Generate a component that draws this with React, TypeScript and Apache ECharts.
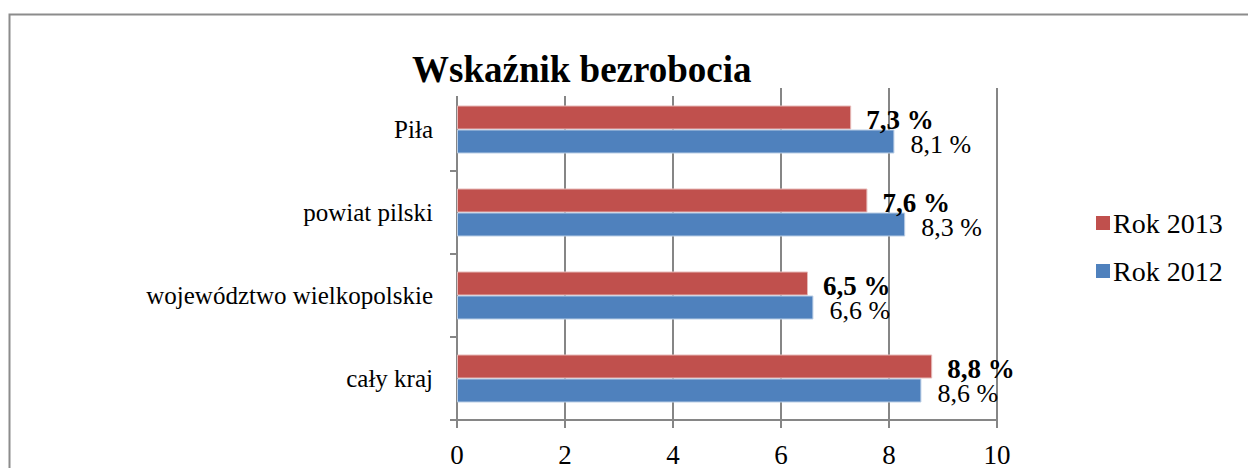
import React, { useEffect, useRef } from "react";
import * as echarts from "echarts";

const categories = ["cały kraj", "województwo wielkopolskie", "powiat pilski", "Piła"];
const values2013 = [8.8, 6.5, 7.6, 7.3];
const values2012 = [8.6, 6.6, 8.3, 8.1];
const xTicks = { min: 0, max: 10, interval: 2 };
const seriesNames = ["Rok 2013", "Rok 2012"];

const FONT = "'Liberation Serif', 'Times New Roman', serif";
const fmt = (v: number) => v.toFixed(1).replace(".", ",") + " %";

export default function App() {
  const ref = useRef<HTMLDivElement>(null);
  useEffect(() => {
    document.body.style.margin = "0";
    const chart = echarts.init(ref.current!, null, { renderer: "svg" });
    chart.setOption({
      animation: false,
      backgroundColor: "#ffffff",
      textStyle: { fontFamily: FONT },
      title: {
        text: "Wskaźnik bezrobocia",
        left: 406,
        top: 44,
        padding: [4, 6, 6, 6],
        backgroundColor: "#ffffff",
        textStyle: { fontFamily: FONT, fontSize: 37, fontWeight: "bold", color: "#000", lineHeight: 42 },
        z: 10,
      },
      legend: {
        data: [seriesNames[0], seriesNames[1]],
        orient: "vertical",
        left: 1091,
        top: 204,
        itemWidth: 14,
        itemHeight: 14,
        itemGap: 20,
        icon: "rect",
        itemStyle: { borderWidth: 0 },
        textStyle: { fontFamily: FONT, fontSize: 28, color: "#000", lineHeight: 28, padding: [0, 0, 0, -2] },
      },
      grid: { left: 457, right: 251, top: 88, bottom: 44, containLabel: false },
      xAxis: {
        type: "value",
        min: xTicks.min,
        max: xTicks.max,
        interval: xTicks.interval,
        axisLine: { show: true, lineStyle: { color: "#868686", width: 2 } },
        axisTick: { show: true, length: 8, lineStyle: { color: "#868686", width: 2 } },
        splitLine: { show: true, lineStyle: { color: "#868686", width: 2 } },
        axisLabel: { fontFamily: FONT, fontSize: 27, color: "#000", margin: 21 },
      },
      yAxis: {
        type: "category",
        data: categories,
        axisLine: { show: true, lineStyle: { color: "#868686", width: 2 } },
        axisTick: { show: true, length: 7, lineStyle: { color: "#868686", width: 2 } },
        axisLabel: { fontFamily: FONT, fontSize: 25, color: "#000", margin: 24 },
      },
      series: [
        {
          name: seriesNames[0],
          type: "bar",
          data: values2013,
          barWidth: 24,
          barGap: "0%",
          itemStyle: { color: "#C0504D", borderColor: "#E6B9B8", borderWidth: 1 },
          label: {
            show: true,
            position: "right",
            distance: 15,
            offset: [0, 2],
            formatter: (p: any) => fmt(p.value),
            fontFamily: FONT,
            fontSize: 27,
            fontWeight: "bold",
            color: "#000",
          },
        },
        {
          name: seriesNames[1],
          type: "bar",
          data: values2012,
          barWidth: 24,
          barGap: "0%",
          itemStyle: { color: "#4F81BD", borderColor: "#B9CDE5", borderWidth: 1 },
          label: {
            show: true,
            position: "right",
            distance: 16,
            offset: [0, 3],
            formatter: (p: any) => fmt(p.value),
            fontFamily: FONT,
            fontSize: 26,
            color: "#000",
          },
        },
      ],
      graphic: [
        {
          type: "rect",
          shape: { x: 9.5, y: 14.5, width: 1300, height: 500 },
          style: { fill: "none", stroke: "#8c8c8c", lineWidth: 2 },
          silent: true,
          z: 100,
        },
      ],
    });
    return () => chart.dispose();
  }, []);
  return <div ref={ref} style={{ position: "absolute", left: 0, top: 0, width: 1248, height: 468 }} />;
}
